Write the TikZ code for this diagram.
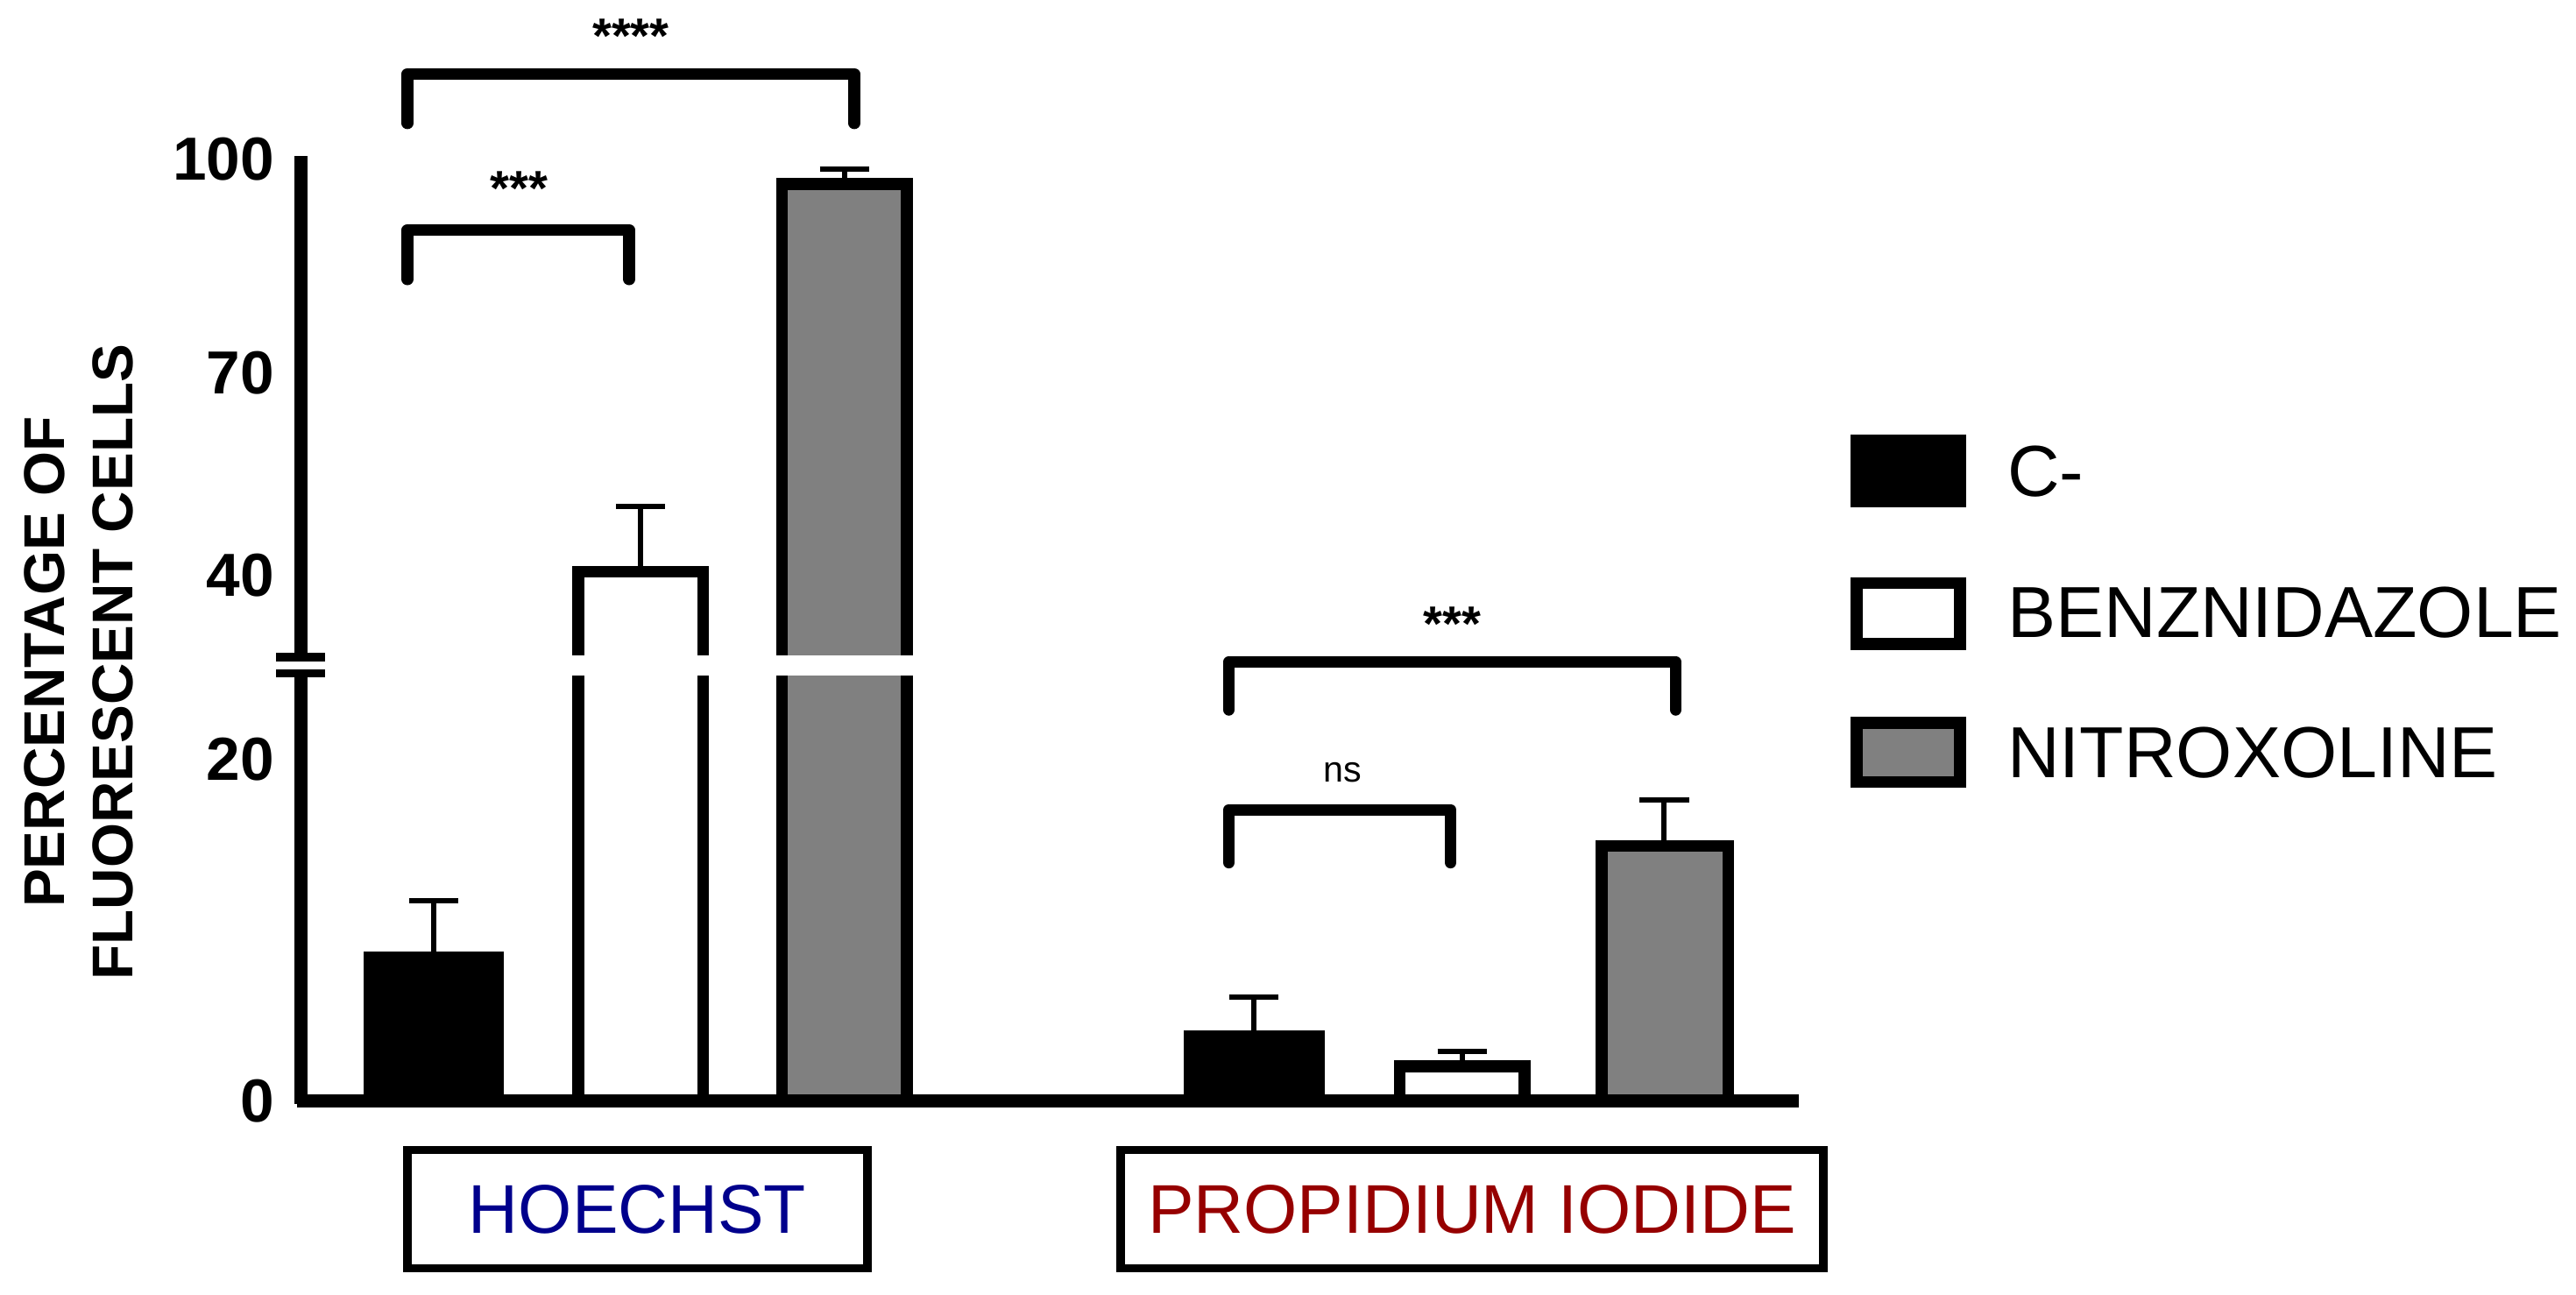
\documentclass[tikz,border=0pt]{standalone}
\usepackage{fontspec}
\setmainfont{Liberation Sans}
\begin{document}
\begin{tikzpicture}[x=0.5pt,y=-0.5pt,
 ax/.style={line width=4pt},
 bar/.style={line width=3.6pt,draw=black},
 err/.style={line width=1.6pt},
 br/.style={line width=3.6pt,line cap=round,line join=round},
 tick/.style={font=\fontsize{18.5}{18.5}\bfseries\selectfont,anchor=east},
 star/.style={font=\fontsize{15}{15}\bfseries\selectfont},
 leg/.style={font=\fontsize{22}{22}\selectfont,anchor=west},
 lbox/.style={draw,line width=2.6pt,minimum width=140pt,minimum height=36pt,font=\fontsize{21}{21}\selectfont}]
\useasboundingbox (0,0) rectangle (1568,788);
% bars hoechst
\draw[err] (264,583) -- (264,548) (249,548) -- (279,548);
\draw[bar,fill=black] (225,670) rectangle (303,583);
\draw[err] (390,348) -- (390,308) (375,308) -- (405,308);
\draw[bar,fill=white] (352,670) rectangle (428,348);
\draw[err] (514,112) -- (514,103) (499,103) -- (529,103);
\draw[bar,fill=gray] (476,670) rectangle (552,112);
\fill[white] (340,399) rectangle (565,411);
% bars PI
\draw[err] (763,631) -- (763,607) (748,607) -- (778,607);
\draw[bar,fill=black] (724,670) rectangle (803,631);
\draw[err] (890,649) -- (890,640) (875,640) -- (905,640);
\draw[bar,fill=white] (852,670) rectangle (928,649);
\draw[err] (1013,515) -- (1013,487) (998,487) -- (1028,487);
\draw[bar,fill=gray] (975,670) rectangle (1052,515);
% axes
\draw[ax] (183,95) -- (183,398);
\draw[ax] (183,412) -- (183,672);
\draw[ax] (181,670) -- (1095,670);
\draw[line width=2.5pt] (168,400) -- (198,400) (168,410) -- (198,410);
\node[tick] (t100) at (174,97) {100};
\node[tick] (t70) at (174,227) {70};
\node[tick] (t40) at (174,350) {40};
\node[tick] (t20) at (174,462) {20};
\node[tick] (t0) at (174,670) {0};
\node[rotate=90,align=center,font=\fontsize{17.5}{21}\bfseries\selectfont] (yl) at (48,403) {PERCENTAGE OF\\FLUORESCENT CELLS};
% brackets
\draw[br] (248,75) -- (248,45) -- (520,45) -- (520,75);
\node[star] (s1) at (384,22) {****};
\draw[br] (248,170) -- (248,140) -- (383,140) -- (383,170);
\node[star] (s2) at (316,115) {***};
\draw[br] (748,432) -- (748,403) -- (1020,403) -- (1020,432);
\node[star] (s3) at (884,380) {***};
\draw[br] (748,525) -- (748,493) -- (883,493) -- (883,525);
\node[font=\fontsize{11}{11}\selectfont] (s4) at (817,470) {ns};
% boxes
\node[lbox,text={rgb,255:red,0;green,0;blue,140}] (h) at (388,736) {HOECHST};
\node[lbox,minimum width=214pt,text={rgb,255:red,150;green,0;blue,0}] (p) at (896,736) {PROPIDIUM IODIDE};
% legend
\draw[bar,fill=black] (1130,268) rectangle (1193,305);
\node[leg] (l1) at (1215,287) {C-};
\draw[bar,fill=white] (1130,355) rectangle (1193,392);
\node[leg] (l2) at (1215,373) {BENZNIDAZOLE};
\draw[bar,fill=gray] (1130,440) rectangle (1193,476);
\node[leg] (l3) at (1215,458) {NITROXOLINE};
\end{tikzpicture}
\end{document}
